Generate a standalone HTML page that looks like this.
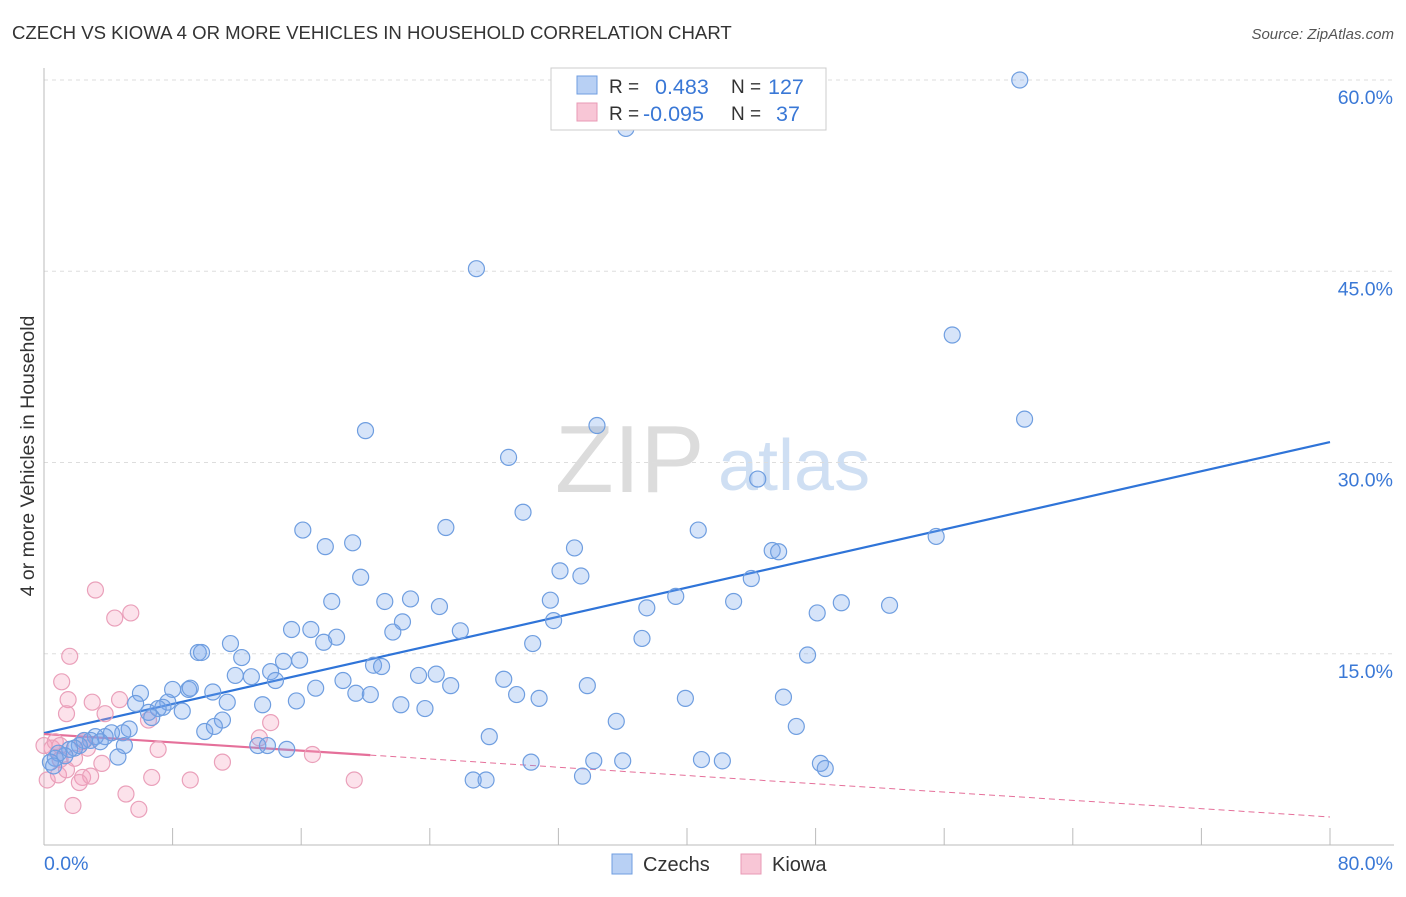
<!DOCTYPE html>
<html><head><meta charset="utf-8"><style>
body{margin:0;background:#fff;font-family:"Liberation Sans",sans-serif;}
svg text{font-family:"Liberation Sans",sans-serif;}
</style></head><body>
<svg id="chart" width="1406" height="892" viewBox="0 0 1406 892" xmlns="http://www.w3.org/2000/svg">
<text x="12" y="39" font-size="18.6" fill="#333">CZECH VS KIOWA 4 OR MORE VEHICLES IN HOUSEHOLD CORRELATION CHART</text>
<text x="1394" y="39" font-size="15" fill="#555" text-anchor="end" font-style="italic">Source: ZipAtlas.com</text>
<text transform="translate(34,456) rotate(-90)" font-size="19.5" fill="#333" text-anchor="middle">4 or more Vehicles in Household</text>
<g>
<text x="555" y="492" font-size="96" fill="#dcdcdc" font-family="Liberation Serif, serif">ZIP</text>
<text x="718" y="490" font-size="72" fill="#cfdff3">atlas</text>
</g>
<g id="grid"></g>
<g id="axes"></g>
<g id="lines"></g>
<g id="pts"></g>
<g>
<rect x="551" y="68" width="275" height="62" fill="#fff" stroke="#ccc"/>
<rect x="577" y="76" width="20" height="18" fill="#b8d0f4" stroke="#6f9ee0"/>
<rect x="577" y="103" width="20" height="18" fill="#f8c6d6" stroke="#e89ab5"/>
<text x="609" y="93" font-size="19" fill="#333">R =</text>
<text x="655" y="94" font-size="21.5" fill="#3a78d6">0.483</text>
<text x="731" y="93" font-size="19" fill="#333">N =</text>
<text x="768" y="94" font-size="21.5" fill="#3a78d6">127</text>
<text x="609" y="120" font-size="19" fill="#333">R =</text>
<text x="643" y="121" font-size="21.5" fill="#3a78d6">-0.095</text>
<text x="731" y="120" font-size="19" fill="#333">N =</text>
<text x="776" y="121" font-size="21.5" fill="#3a78d6">37</text>
</g>
<g>
<rect x="612" y="854" width="20" height="20" fill="#b8d0f4" stroke="#6f9ee0"/>
<text x="643" y="871" font-size="20" fill="#333">Czechs</text>
<rect x="741" y="854" width="20" height="20" fill="#f8c6d6" stroke="#e89ab5"/>
<text x="772" y="871" font-size="20" fill="#333">Kiowa</text>
</g>
</svg>
<script>
const yTicks=[15,30,45,60];
const yTickLabels=["15.0%","30.0%","45.0%","60.0%"];
const xTickVals=[0,8,16,24,32,40,48,56,64,72,80];
const xEndLabels=["0.0%","80.0%"];
const czX=[60.7,36.2,26.9,56.5,61.0,20.0,34.4,28.9,44.4,29.8,16.1,25.0,40.7,55.5,17.5,19.2,33.0,45.3,45.7,19.7,32.1,33.4,44.0,17.9,21.2,22.8,24.6,31.5,39.3,42.9,48.1,49.6,52.6,37.5,22.3,31.7,21.7,15.4,16.6,25.9,18.2,17.4,37.2,30.4,11.6,9.6,9.8,12.3,47.5,14.9,15.9,20.5,21.0,14.1,11.9,12.9,14.4,23.3,24.4,28.6,16.9,25.3,33.8,6.0,8.0,9.0,9.1,10.5,18.6,19.4,20.3,29.4,30.8,39.9,46.0,15.7,11.4,7.7,5.7,7.4,7.1,13.6,23.7,22.2,8.6,6.5,6.7,11.1,35.6,46.8,10.0,10.6,5.3,4.9,4.2,3.8,3.2,2.9,2.5,3.5,2.2,1.9,1.6,1.3,0.9,0.7,0.4,0.6,5.0,13.3,13.9,15.1,4.6,27.7,30.3,34.2,36.0,40.9,42.2,48.3,48.6,26.7,27.5,33.5];
const czY=[60.0,56.2,45.2,40.0,33.4,32.5,32.9,30.4,28.7,26.1,24.7,24.9,24.7,24.2,23.4,23.7,23.3,23.1,23.0,21.0,21.5,21.1,20.9,19.1,19.1,19.3,18.7,19.2,19.5,19.1,18.2,19.0,18.8,18.6,17.5,17.6,16.7,16.9,16.9,16.8,16.3,15.9,16.2,15.8,15.8,15.1,15.1,14.7,14.9,14.4,14.5,14.1,14.0,13.6,13.3,13.2,12.9,13.3,13.4,13.0,12.3,12.5,12.5,11.9,12.2,12.2,12.3,12.0,12.9,11.9,11.8,11.8,11.5,11.5,11.6,11.3,11.2,11.2,11.1,10.8,10.7,11.0,10.7,11.0,10.5,10.4,10.0,9.8,9.7,9.3,8.9,9.3,9.1,8.8,8.8,8.5,8.5,8.2,8.2,8.1,7.8,7.6,7.5,7.0,7.2,6.8,6.5,6.2,7.8,7.8,7.8,7.5,6.9,8.5,6.5,6.6,6.6,6.7,6.6,6.4,6.0,5.1,5.1,5.4];
const kiX=[3.2,5.4,4.4,1.6,1.1,1.5,3.0,1.4,3.8,4.7,6.5,14.1,13.4,7.1,11.1,16.7,0,0.5,0.7,1.0,1.9,2.4,2.7,3.6,0.2,0.9,1.4,2.4,2.9,2.2,5.1,9.1,6.7,19.3,1.8,5.9,1.0];
const kiY=[20.0,18.2,17.8,14.8,12.8,11.4,11.2,10.3,10.3,11.4,9.8,9.6,8.4,7.5,6.5,7.1,7.8,7.6,8.1,6.7,6.8,8.1,7.6,6.4,5.1,5.5,5.9,5.3,5.4,4.9,4.0,5.1,5.3,5.1,3.1,2.8,7.8];
const czTrend=[8.78,31.6];
const kiTrend=[8.7,2.2];
const kiSolidEnd=20.3;

const X0=44,X1=1330,Y0=845,PPY=12.75;
const sx=v=>X0+(X1-X0)*v/80;
const sy=v=>Y0-v*PPY;
const NS="http://www.w3.org/2000/svg";
function mk(t,a,p){const e=document.createElementNS(NS,t);for(const k in a)e.setAttribute(k,a[k]);p.appendChild(e);return e;}
const grid=document.getElementById('grid'),axes=document.getElementById('axes'),lines=document.getElementById('lines'),pts=document.getElementById('pts');
yTicks.forEach((v,i)=>{
 const l=mk('line',{x1:44,x2:1394,y1:sy(v),y2:sy(v),stroke:'#ddd','stroke-dasharray':'4,4'},grid);
 
 
 const t=mk('text',{x:1393,y:sy(v)+24,'font-size':19.5,fill:'#3a78d6','text-anchor':'end'},axes);
 t.textContent=yTickLabels[i];
 
 
});
mk('line',{x1:44,x2:44,y1:68,y2:845,stroke:'#bbb'},axes);
mk('line',{x1:44,x2:1394,y1:845,y2:845,stroke:'#bbb'},axes);
xTickVals.forEach(v=>{
 const l=mk('line',{x1:sx(v),x2:sx(v),y1:828,y2:845,stroke:'#bbb'},axes);
 
 
});
const t0=mk('text',{x:44,y:870,'font-size':19.5,fill:'#3a78d6'},axes);t0.textContent=xEndLabels[0];


const t1=mk('text',{x:1393,y:870,'font-size':19.5,fill:'#3a78d6','text-anchor':'end'},axes);t1.textContent=xEndLabels[1];


function dot(x,y,f,s,n){const c=mk('circle',{cx:sx(x),cy:sy(y),r:8,fill:f,stroke:s,'stroke-width':1.2},pts);
 
 }
kiX.forEach((x,i)=>dot(x,kiY[i],'rgba(244,160,190,0.3)','#eaa0ba','kiowa-point'));
czX.forEach((x,i)=>dot(x,czY[i],'rgba(120,165,235,0.3)','#6f9ee0','czech-point'));
const kAt=x=>kiTrend[0]+(kiTrend[1]-kiTrend[0])*x/80;
const b=mk('line',{x1:sx(0),y1:sy(czTrend[0]),x2:sx(80),y2:sy(czTrend[1]),stroke:'#2f74d8','stroke-width':2.2},lines);


const p1=mk('line',{x1:sx(0),y1:sy(kAt(0)),x2:sx(kiSolidEnd),y2:sy(kAt(kiSolidEnd)),stroke:'#e5709a','stroke-width':2.2},lines);


const p2=mk('line',{x1:sx(kiSolidEnd),y1:sy(kAt(kiSolidEnd)),x2:sx(80),y2:sy(kAt(80)),stroke:'#e5709a','stroke-width':1,'stroke-dasharray':'6,4'},lines);


</script>
</body></html>
